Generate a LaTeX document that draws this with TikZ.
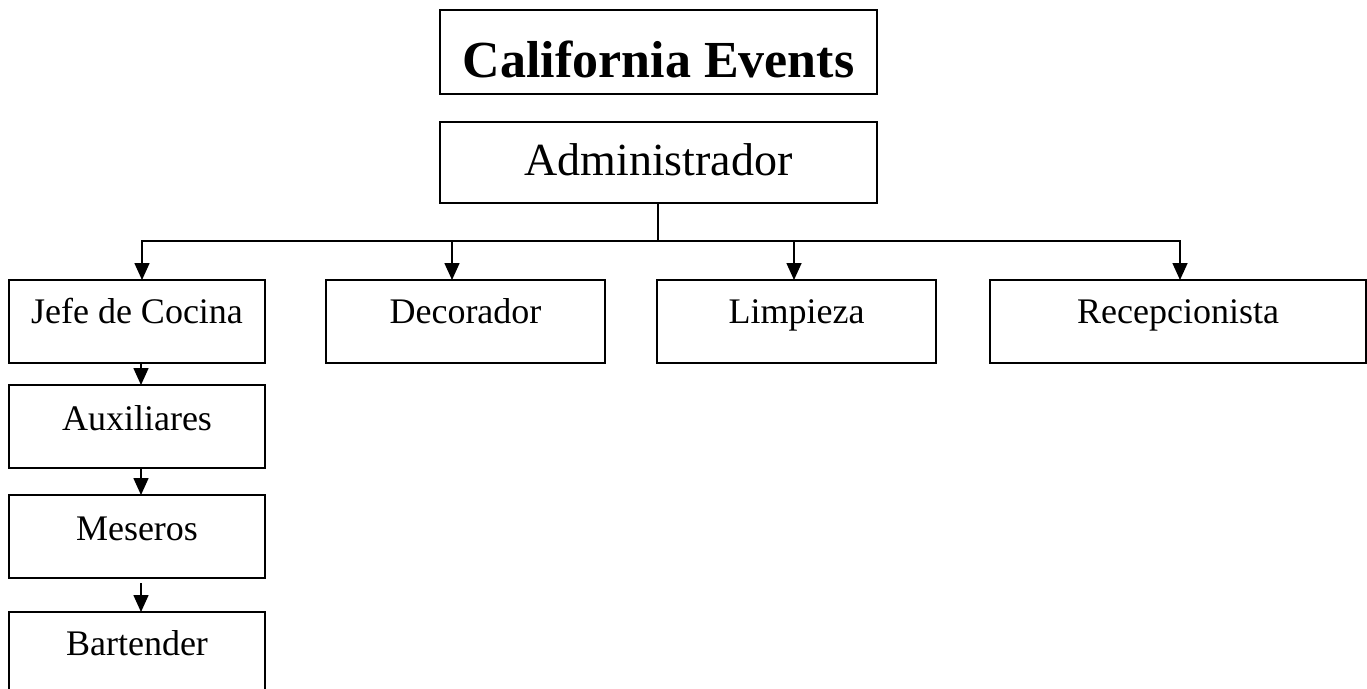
\documentclass[tikz,border=0pt]{standalone}
\usepackage{fontspec}
\setmainfont{Liberation Serif}
\usetikzlibrary{arrows.meta}
\tikzset{
  box/.style={draw=black, line width=1.6pt, inner xsep=0pt, inner ysep=0pt, outer sep=0pt, anchor=north west, align=center},
  conn/.style={draw=black, line width=1.6pt},
  arr/.style={conn, -{Triangle[length=17pt,width=15pt]}},
  txtS/.style={font=\fontsize{36}{40}\selectfont},
}
\begin{document}
\begin{tikzpicture}[x=1pt,y=-1pt]
\useasboundingbox[fill=white] (0,0) rectangle (1367,688);
% title and administrator
\node[box, minimum width=437pt, text height=67pt, text depth=17pt, font=\fontsize{52}{56}\selectfont\bfseries] (title) at (440,10) {California Events};
\node[box, minimum width=437pt, text height=53pt, text depth=28pt, font=\fontsize{46}{50}\selectfont] (admin) at (440,122) {Administrador};
% first level
\node[box, txtS, minimum width=256pt, text height=43pt, text depth=40pt] (jefe) at (9,280) {Jefe de Cocina};
\node[box, txtS, minimum width=279pt, text height=43pt, text depth=40pt] (deco) at (326,280) {Decorador};
\node[box, txtS, minimum width=279pt, text height=43pt, text depth=40pt] (limp) at (657,280) {Limpieza};
\node[box, txtS, minimum width=376pt, text height=43pt, text depth=40pt] (recep) at (990,280) {Recepcionista};
% kitchen chain
\node[box, txtS, minimum width=256pt, text height=45pt, text depth=38pt] (aux) at (9,385) {Auxiliares};
\node[box, txtS, minimum width=256pt, text height=45pt, text depth=38pt] (mes) at (9,495) {Meseros};
\node[box, txtS, minimum width=256pt, text height=43pt, text depth=45pt] (bar) at (9,612) {Bartender};
% connectors
\coordinate (top) at ([xshift=-0.5pt]admin.south);
\coordinate (bus) at ([yshift=-38pt]top);
\draw[conn] (top) -- (bus);
\draw[arr] (bus) -| ([xshift=5pt]jefe.north);
\draw[arr] (bus) -| ([xshift=-13.5pt]deco.north);
\draw[arr] (bus) -| ([xshift=-2.5pt]limp.north);
\draw[arr] (bus) -| ([xshift=2pt]recep.north);
\draw[arr] ([xshift=4pt]jefe.south) -- ([xshift=4pt]aux.north);
\draw[arr] ([xshift=4pt]aux.south) -- ([xshift=4pt]mes.north);
\draw[arr, shorten <=5pt] ([xshift=4pt]mes.south) -- ([xshift=4pt]bar.north);
\end{tikzpicture}
\end{document}
